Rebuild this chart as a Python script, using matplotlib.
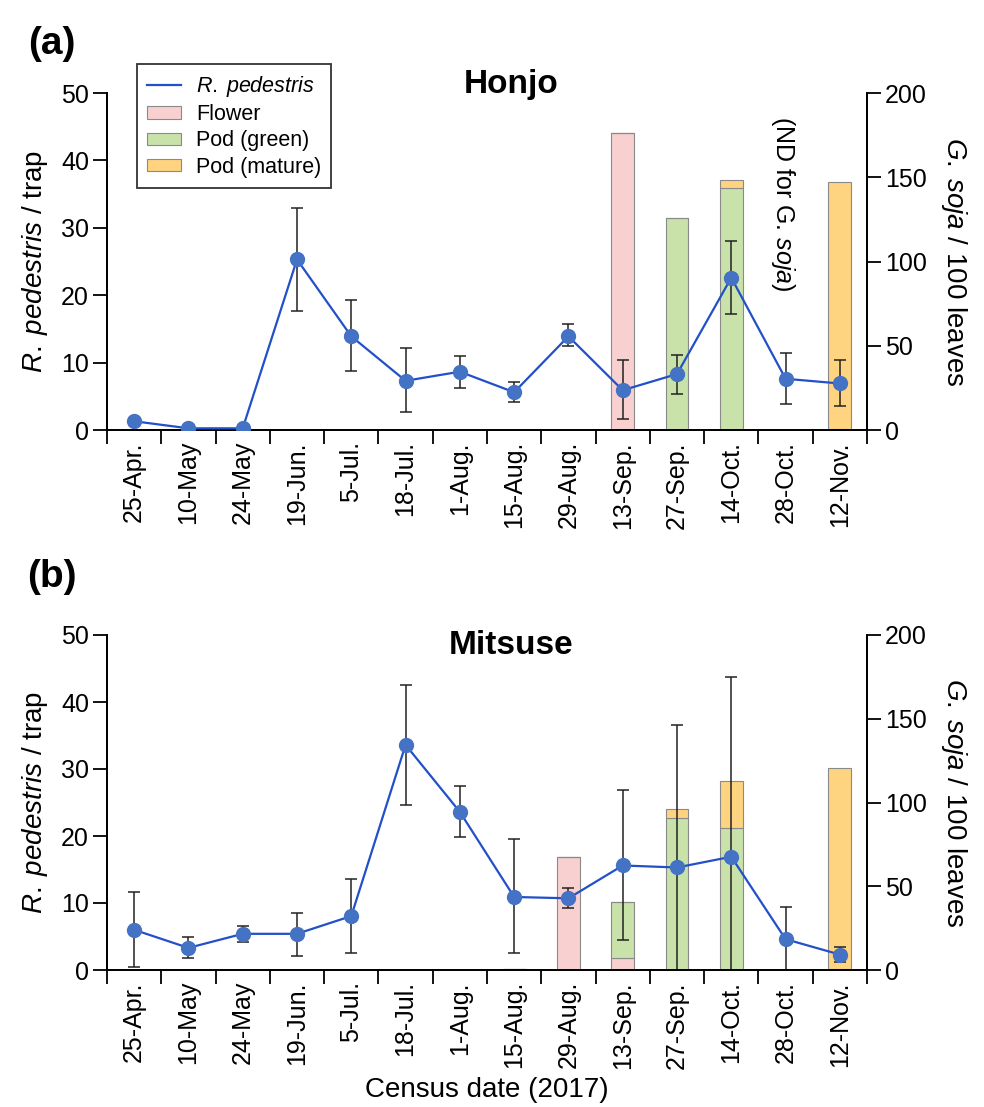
import matplotlib
matplotlib.use("Agg")
import matplotlib.pyplot as plt
from matplotlib.lines import Line2D
import numpy as np

plt.rcParams['font.family'] = ['Liberation Sans', 'DejaVu Sans']
plt.rcParams['mathtext.fontset'] = 'custom'
plt.rcParams['mathtext.rm'] = 'Liberation Sans'
plt.rcParams['mathtext.it'] = 'Liberation Sans:italic'

# census dates
dates = ['25-Apr.', '10-May', '24-May', '19-Jun.', '5-Jul.', '18-Jul.', '1-Aug.',
         '15-Aug.', '29-Aug.', '13-Sep.', '27-Sep.', '14-Oct.', '28-Oct.', '12-Nov.']

# Honjo: R. pedestris per trap (mean, error bar low end, error bar high end)
honjo_mean = [1.3, 0.25, 0.25, 25.3, 13.9, 7.3, 8.65, 5.6, 13.9, 5.9, 8.3, 22.6, 7.6, 6.9]
honjo_low = [1.3, 0.25, 0.25, 17.7, 8.7, 2.6, 6.3, 4.1, 12.4, 1.6, 5.4, 17.2, 3.9, 3.5]
honjo_high = [1.3, 0.25, 0.25, 33.0, 19.3, 12.1, 11.0, 7.1, 15.7, 10.4, 11.2, 28.1, 11.4, 10.4]
# Honjo: G. soja per 100 leaves
honjo_flower = [0, 0, 0, 0, 0, 0, 0, 0, 0, 176, 0, 0, 0, 0]
honjo_green = [0, 0, 0, 0, 0, 0, 0, 0, 0, 0, 126, 143.5, 0, 0.5]
honjo_mature = [0, 0, 0, 0, 0, 0, 0, 0, 0, 0, 0, 5, 0, 146.5]

# Mitsuse
mitsuse_mean = [6.0, 3.3, 5.4, 5.4, 8.05, 33.6, 23.6, 10.9, 10.7, 15.6, 15.3, 16.9, 4.6, 2.3]
mitsuse_low = [0.5, 1.8, 4.2, 2.1, 2.5, 24.6, 19.8, 2.5, 9.2, 4.5, -6.0, -10.0, -0.2, 1.2]
mitsuse_high = [11.6, 4.9, 6.5, 8.55, 13.6, 42.6, 27.5, 19.5, 12.2, 26.9, 36.6, 43.8, 9.4, 3.5]
mitsuse_flower = [0, 0, 0, 0, 0, 0, 0, 0.3, 67.3, 7.4, 0, 0, 0, 0]
mitsuse_green = [0, 0, 0, 0, 0, 0, 0, 0, 0, 33.0, 90.9, 84.6, 0, 0.5]
mitsuse_mature = [0, 0, 0, 0, 0, 0, 0, 0, 0, 0, 5.0, 28.2, 0, 120.0]

W, H = 984, 1107
fig = plt.figure(figsize=(W / 100, H / 100), dpi=100)

line_col = '#2150C8'
dot_col = '#4472C4'
c_flower = '#F8D0D0'
c_green = '#C8E2AA'
c_mature = '#FFD480'


def panel(rect, mean, low, high, flower, green, mature, show_xlabel):
    ax = fig.add_axes(rect)
    ax2 = ax.twinx()
    x = np.arange(len(dates))
    f = np.array(flower)
    g = np.array(green)
    m = np.array(mature)
    bw = 0.42
    b1 = ax2.bar(x, f, bw, color=c_flower, edgecolor='#8a8a8a', linewidth=0.8, label='Flower')
    b2 = ax2.bar(x, g, bw, bottom=f, color=c_green, edgecolor='#8a8a8a', linewidth=0.8, label='Pod (green)')
    b3 = ax2.bar(x, m, bw, bottom=f + g, color=c_mature, edgecolor='#8a8a8a', linewidth=0.8, label='Pod (mature)')
    mean = np.array(mean)
    yerr = [mean - np.array(low), np.array(high) - mean]
    ax.errorbar(x, mean, yerr=yerr, fmt='none', ecolor='#222222', elinewidth=1.1,
                capsize=4.5, capthick=1.1, zorder=2)
    ax.plot(x, mean, color=line_col, lw=1.6, marker='o', ms=10,
            mfc=dot_col, mec=dot_col, zorder=3)
    ax.set_zorder(ax2.get_zorder() + 1)
    ax.patch.set_visible(False)

    ax.set_xlim(-0.5, len(dates) - 0.5)
    ax.set_ylim(0, 50)
    ax2.set_ylim(0, 200)
    ax.set_yticks(np.arange(0, 51, 10))
    ax2.set_yticks(np.arange(0, 201, 50))
    ax.set_xticks(x)
    ax.set_xticklabels(dates, rotation=90, fontsize=18)
    ax.set_xticks(np.arange(-0.5, len(dates), 1), minor=True)
    ax.tick_params(axis='x', which='major', length=0, pad=8)
    ax.tick_params(axis='x', which='minor', length=10, width=1.3, direction='out')
    ax.tick_params(axis='y', length=10, width=1.3, labelsize=18, pad=3)
    ax2.tick_params(axis='y', length=10, width=1.3, labelsize=18, pad=3)
    for a in (ax, ax2):
        a.spines['top'].set_visible(False)
        for s in ('left', 'right', 'bottom'):
            a.spines[s].set_linewidth(1.3)
    ax.set_ylabel('$\\it{R.\\;pedestris}$ / trap', fontsize=20, labelpad=8)
    ax2.set_ylabel('$\\it{G.\\;soja}$ / 100 leaves', fontsize=20, rotation=270, labelpad=30)
    if show_xlabel:
        ax.set_xlabel('Census date (2017)', fontsize=20, labelpad=6)
    return ax, [b1, b2, b3]


axa, bars = panel([107 / W, 1 - 430 / H, 760 / W, 337 / H], honjo_mean, honjo_low, honjo_high,
                  honjo_flower, honjo_green, honjo_mature, False)
axb, _ = panel([107 / W, 1 - 970 / H, 760 / W, 335 / H], mitsuse_mean, mitsuse_low, mitsuse_high,
               mitsuse_flower, mitsuse_green, mitsuse_mature, True)

line_handle = Line2D([], [], color=line_col, lw=1.6)
handles = [line_handle] + bars
labels = ['$\\it{R.\\;pedestris}$', 'Flower', 'Pod (green)', 'Pod (mature)']
leg = fig.legend(handles, labels, loc='upper left',
                 bbox_to_anchor=(137 / W, 1 - 64 / H), bbox_transform=fig.transFigure,
                 borderaxespad=0, fontsize=15.5, frameon=True, fancybox=False, edgecolor='black',
                 handlelength=1.6, handleheight=0.5, labelspacing=0.25, borderpad=0.45,
                 handletextpad=0.7)
leg.get_frame().set_linewidth(1.3)

fig.text(511 / W, 1 - 85 / H, 'Honjo', fontsize=24, fontweight='bold', ha='center', va='center')
fig.text(511 / W, 1 - 645 / H, 'Mitsuse', fontsize=24, fontweight='bold', ha='center', va='center')
fig.text(52 / W, 1 - 44 / H, '(a)', fontsize=28, fontweight='bold', ha='center', va='center')
fig.text(52 / W, 1 - 577 / H, '(b)', fontsize=28, fontweight='bold', ha='center', va='center')
axa.text(11.95, 33.5, '(ND for G. $\\it{soja}$)', fontsize=18, rotation=270,
         ha='center', va='center')

fig.savefig('out.png', dpi=100)
